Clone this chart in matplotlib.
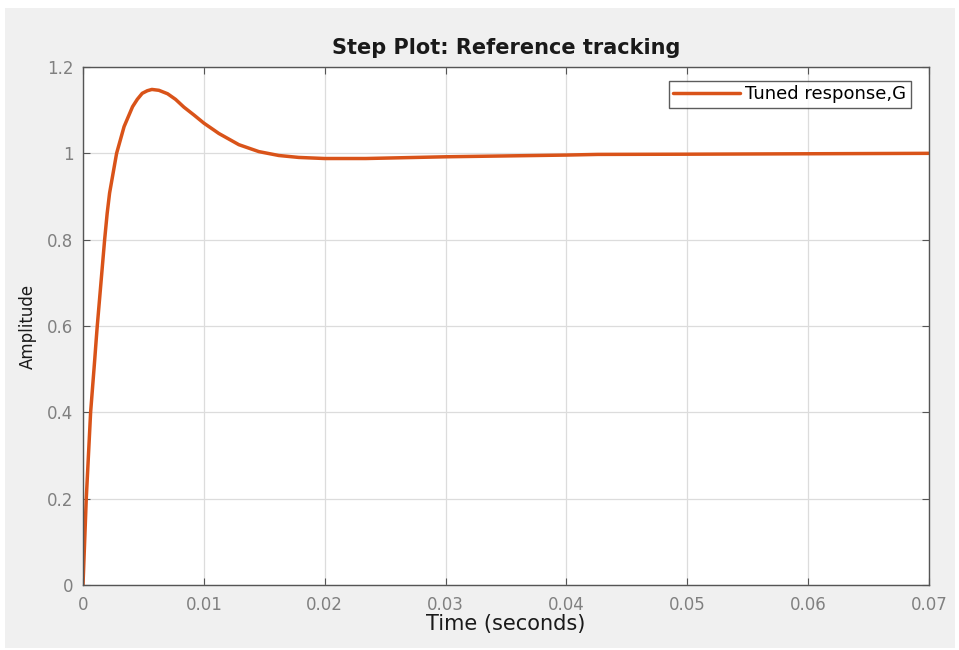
import matplotlib.pyplot as plt
from matplotlib.patches import Rectangle

time_s = [0, 0.00027, 0.00063, 0.00097, 0.00109, 0.00118, 0.00179, 0.0020, 0.0022,
          0.00278, 0.0034, 0.0041, 0.00449, 0.0049, 0.00532, 0.0057, 0.00628, 0.0070,
          0.00766, 0.00835, 0.00917, 0.0100, 0.01083, 0.01124, 0.0129, 0.01455, 0.0162,
          0.01785, 0.0200, 0.0234, 0.0300, 0.0400, 0.0426, 0.0500, 0.0600, 0.0700]
amplitude = [0, 0.2, 0.4, 0.522, 0.5675, 0.6, 0.8, 0.861, 0.908,
             1.0, 1.062, 1.108, 1.125, 1.139, 1.145, 1.148, 1.146, 1.138,
             1.125, 1.107, 1.089, 1.07, 1.054, 1.046, 1.020, 1.004, 0.995,
             0.9905, 0.988, 0.988, 0.992, 0.996, 0.9975, 0.998, 0.999, 1.0]

xticks = [0, 0.01, 0.02, 0.03, 0.04, 0.05, 0.06, 0.07]
xlabels = ['0', '0.01', '0.02', '0.03', '0.04', '0.05', '0.06', '0.07']
yticks = [0, 0.2, 0.4, 0.6, 0.8, 1.0, 1.2]
ylabels = ['0', '0.2', '0.4', '0.6', '0.8', '1', '1.2']

plt.rcParams['font.family'] = ['DejaVu Sans']

fig = plt.figure(figsize=(9.59, 6.5), dpi=100, facecolor='white')
fig.patches.append(Rectangle((5 / 959, 2 / 650), 950 / 959, 640 / 650,
                             transform=fig.transFigure, facecolor='#f0f0f0',
                             edgecolor='none', zorder=-10))

ax = fig.add_axes([83 / 959, 1 - 585 / 650, 846 / 959, 518 / 650])
ax.set_facecolor('white')
ax.plot(time_s, amplitude, color='#D95319', linewidth=2.5, label='Tuned response,G',
        solid_capstyle='round', solid_joinstyle='round')

ax.set_xlim(0, 0.07)
ax.set_ylim(0, 1.2)
ax.set_xticks(xticks)
ax.set_xticklabels(xlabels)
ax.set_yticks(yticks)
ax.set_yticklabels(ylabels)
ax.tick_params(direction='in', top=True, right=True, length=5, width=0.8,
               colors='#555555', labelsize=12, labelcolor='#808080')
ax.tick_params(axis='x', pad=8)
ax.tick_params(axis='y', pad=7)
ax.grid(True, color='#dcdcdc', linewidth=0.9)
ax.set_axisbelow(True)
for s in ax.spines.values():
    s.set_color('#555555')
    s.set_linewidth(1.0)

ax.set_title('Step Plot: Reference tracking', fontsize=15, fontweight='bold',
             color='#1a1a1a', pad=9)
ax.set_xlabel('Time (seconds)', fontsize=15, color='#1a1a1a', labelpad=0)
ax.set_ylabel('Amplitude', fontsize=12, color='#1a1a1a', labelpad=7)

leg = ax.legend(loc='upper right', fontsize=13, frameon=True, fancybox=False,
                handlelength=3.7, handletextpad=0.3, borderpad=0.25,
                borderaxespad=0, bbox_to_anchor=(0.9787, 0.973))
leg.get_frame().set_edgecolor('#333333')
leg.get_frame().set_linewidth(1.0)

fig.savefig('out.png', dpi=100, facecolor=fig.get_facecolor())
